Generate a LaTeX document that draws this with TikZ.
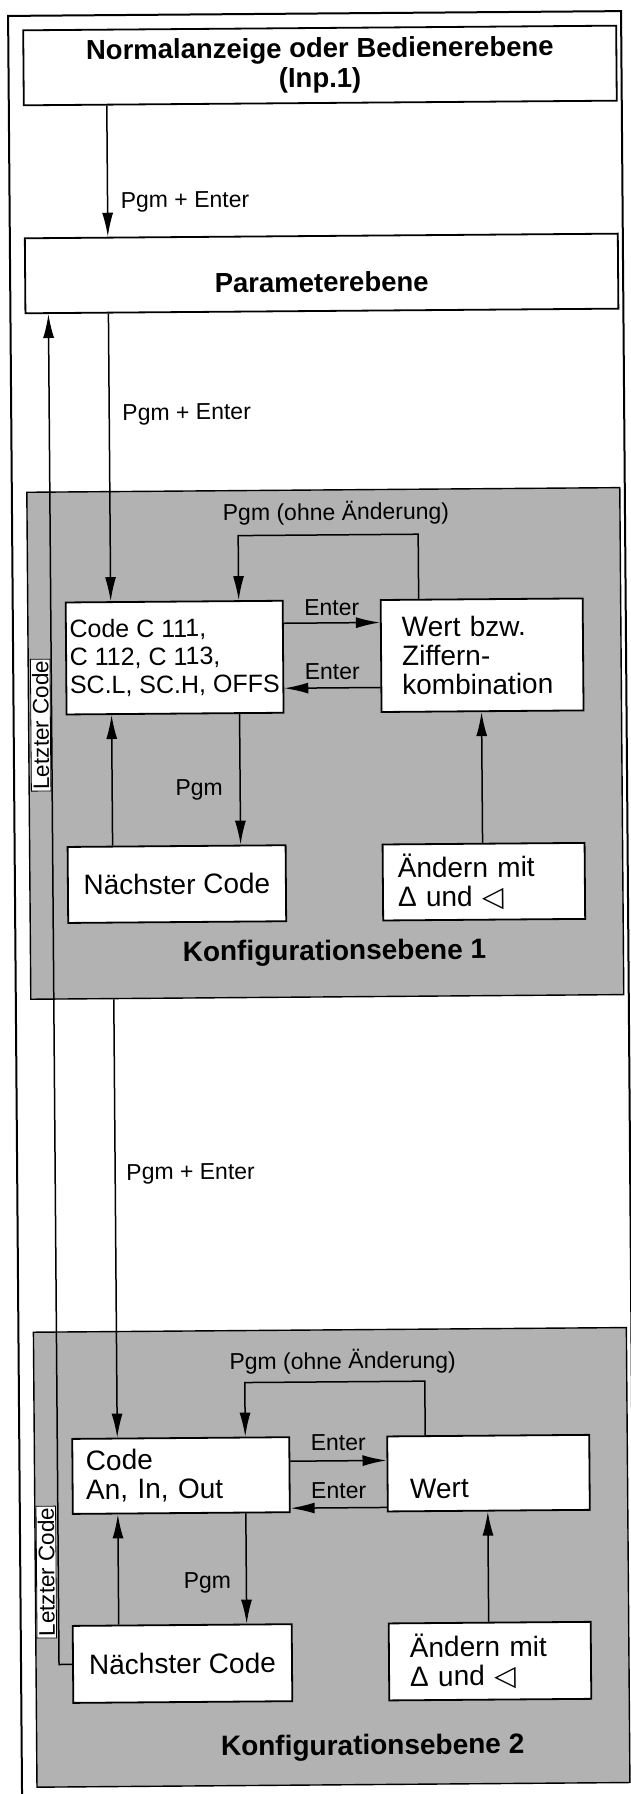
\documentclass[tikz,border=0pt]{standalone}
\usepackage{fontspec}
\setmainfont{Liberation Sans}
\newfontfamily\symfont{DejaVu Sans}
\usetikzlibrary{arrows.meta}
\begin{document}
\begin{tikzpicture}[x=1pt,y=-1pt,
  box/.style={draw, line width=1.8pt, fill=white, rectangle, inner sep=0pt},
  grayarea/.style={draw, line width=1.4pt, fill=black!30, rectangle, inner sep=0pt},
  conn/.style={line width=1.5pt, -{Latex[length=24pt,width=11pt]}},
  frame/.style={line width=2pt},
  title/.style={font=\fontsize{27.5}{30}\selectfont\bfseries},
  ktitle/.style={font=\fontsize{28}{30}\selectfont\bfseries},
  btext/.style={font=\fontsize{28}{29}\selectfont},
  ctext/.style={font=\fontsize{25}{28}\selectfont},
  lbl/.style={font=\fontsize{23}{26}\selectfont, inner sep=0pt},
  rotlbl/.style={font=\fontsize{22.5}{24}\selectfont, rotate=90, fill=white, draw, line width=0.8pt, inner sep=1.5pt},
  ]
\useasboundingbox (0,0) rectangle (631,1794);
\fill[white] (0,0) rectangle (631,1794);
\begin{scope}[transform canvas={rotate around={0.45:(315.5,897)}}]
% outer frame
\draw[frame] (15,1830) -- (15,13.5) -- (628,13.5) -- (628,1830);
% grey configuration areas
\node[grayarea, minimum width=593pt, minimum height=507pt] (konf1) at (326.5,743.5) {};
\node[grayarea, minimum width=593pt, minimum height=455pt] (konf2) at (326.5,1557.5) {};
% boxes
\node[box, title, align=center, minimum width=593pt, minimum height=75pt] (top) at (326.5,65.5)
  {Normalanzeige oder Bedienerebene\\(Inp.1)};
\node[box, title, minimum width=593pt, minimum height=75pt, text height=37pt, text depth=0pt] (param) at (326.5,273.5) {Parameterebene};
\node[box, ctext, align=left, minimum width=217pt, minimum height=112pt] (code1) at (176.5,656.5)
  {Code C 111,\\C 112, C 113,\\SC.L, SC.H, OFFS};
\node[box, btext, align=left, text width=160pt, minimum width=202pt, minimum height=112pt] (wert1) at (484,656.5)
  {Wert bzw.\\Ziffern-\\kombination};
\node[box, btext, align=center, minimum width=218pt, minimum height=76pt] (next1) at (177,883) {Nächster Code};
\node[box, btext, align=left, text width=172pt, minimum width=202pt, minimum height=76pt] (aend1) at (484,883)
  {Ändern mit\\Δ und {\symfont ◁}};
\node[box, btext, align=left, text width=190pt, minimum width=217pt, minimum height=75pt] (code2) at (176.5,1474.5)
  {Code\\An, In, Out};
\node[box, btext, align=left, text width=157pt, minimum width=202pt, minimum height=75pt, text height=49pt, text depth=0pt] (wert2) at (484,1474.5) {Wert};
\node[box, btext, align=center, minimum width=219pt, minimum height=77pt] (next2) at (176.5,1662.5) {Nächster Code};
\node[box, btext, align=left, text width=160pt, minimum width=202pt, minimum height=77pt] (aend2) at (484,1662.5)
  {Ändern mit\\Δ und {\symfont ◁}};
% level titles
\node[ktitle] (k1title) at (334,953) {Konfigurationsebene 1};
\node[ktitle] (k2title) at (366,1748) {Konfigurationsebene 2};
% columns and rows
\coordinate (xa) at (113,0);
\coordinate (xl) at (241,0);
\coordinate (xr) at (421,0);
\coordinate (xu) at (483,0);
\coordinate (xL) at (53,0);
\coordinate (ya1) at (0,535);
\coordinate (yr1) at (0,623);
\coordinate (yl1) at (0,688);
\coordinate (ya2) at (0,1382);
\coordinate (yr2) at (0,1461);
\coordinate (yl2) at (0,1508);
% connectors
\draw[conn] (top.south -| xa) -- (param.north -| xa);
\draw[conn] (param.south -| xa) -- (code1.north -| xa);
\draw[conn] (code1.east |- yr1) -- (wert1.west |- yr1);
\draw[conn] (wert1.west |- yl1) -- (code1.east |- yl1);
\draw[conn] (wert1.north -| xr) -- (xr |- ya1) -- (xl |- ya1) -- (code1.north -| xl);
\draw[conn] (code1.south -| xl) -- (next1.north -| xl);
\draw[conn] (next1.north -| xa) -- (code1.south -| xa);
\draw[conn] (aend1.north -| xu) -- (wert1.south -| xu);
\draw[conn] (konf1.south -| xa) -- (code2.north -| xa);
\draw[conn] (code2.east |- yr2) -- (wert2.west |- yr2);
\draw[conn] (wert2.west |- yl2) -- (code2.east |- yl2);
\draw[conn] (wert2.north -| xr) -- (xr |- ya2) -- (xl |- ya2) -- (code2.north -| xl);
\draw[conn] (code2.south -| xl) -- (next2.north -| xl);
\draw[conn] (next2.north -| xa) -- (code2.south -| xa);
\draw[conn] (aend2.north -| xu) -- (wert2.south -| xu);
\draw[conn] (next2.west) -| (param.south -| xL);
% labels
\node[lbl, anchor=west] (l1) at (126,201) {Pgm + Enter};
\node[lbl, anchor=west] (l2) at (126,413.5) {Pgm + Enter};
\node[lbl, anchor=west] (l3) at (124,1173) {Pgm + Enter};
\node[lbl] (o1) at (339,513) {Pgm (ohne Änderung)};
\node[lbl] (o2) at (339,1362) {Pgm (ohne Änderung)};
\node[lbl] (e1) at (334,608) {Enter};
\node[lbl] (e2) at (334,672) {Enter};
\node[lbl] (e3) at (334,1443) {Enter};
\node[lbl] (e4) at (334,1491) {Enter};
\node[lbl] (p1) at (200,789) {Pgm};
\node[lbl] (p2) at (202,1582) {Pgm};
\node[rotlbl] (lc1) at (42,723) {Letzter Code};
\node[rotlbl] (lc2) at (41,1570) {Letzter Code};
\end{scope}
\end{tikzpicture}
\end{document}
